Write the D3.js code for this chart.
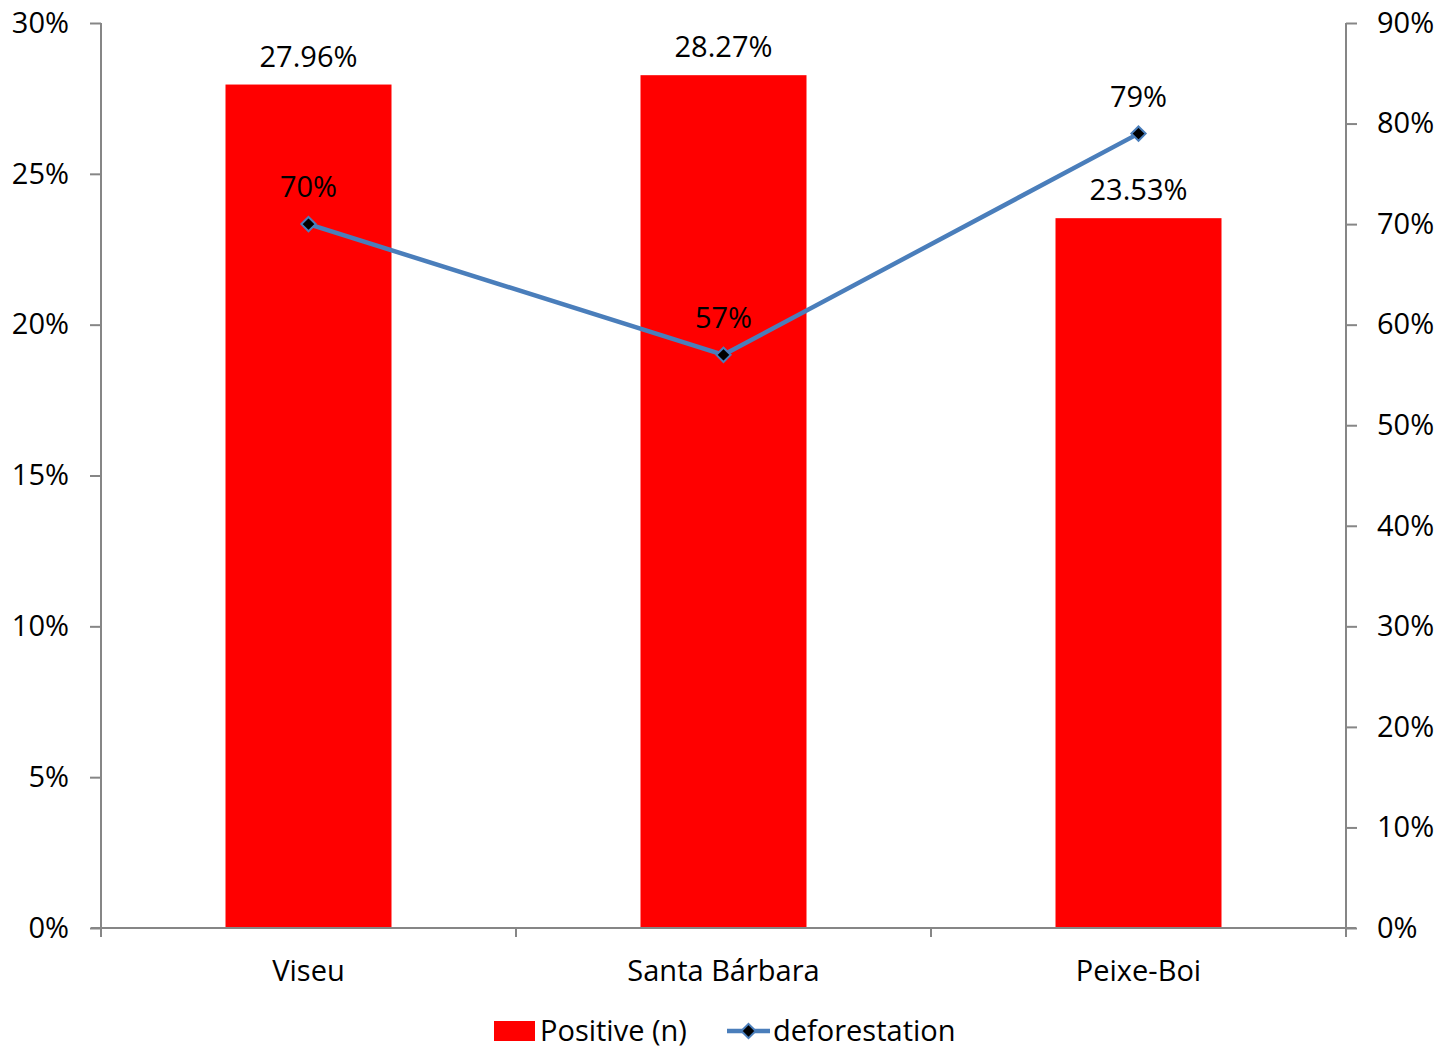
<!DOCTYPE html>
<html>
<head>
<meta charset="utf-8">
<script src="https://cdn.jsdelivr.net/npm/d3@7"></script>
<style>
  html, body { margin: 0; padding: 0; background: #fff; }
  svg text { font-family: "Open Sans", "Lato", sans-serif; fill: #000; }
</style>
</head>
<body>
<svg id="chart" width="1453" height="1049"></svg>
<script>
// Municipalities, share of positive samples, and deforestation share
const categories = ["Viseu", "Santa Bárbara", "Peixe-Boi"];
const positive = [27.96, 28.27, 23.53];
const deforestation = [70, 57, 79];
const leftTicks = [0, 5, 10, 15, 20, 25, 30];
const rightTicks = [0, 10, 20, 30, 40, 50, 60, 70, 80, 90];
const seriesNames = ["Positive (n)", "deforestation"];

const svg = d3.select("#chart");
const plot = { left: 101, right: 1346, top: 23, bottom: 928 };
const axisColor = "#868686";
const barColor = "#ff0000";
const lineColor = "#4a7ebb";
const fontSize = 29;
const fontFamily = '"Open Sans", "Lato", sans-serif';

const x = d3.scaleBand().domain(categories).range([plot.left, plot.right]).paddingInner(0).paddingOuter(0);
const yL = d3.scaleLinear().domain([0, 30]).range([plot.bottom, plot.top]);
const yR = d3.scaleLinear().domain([0, 90]).range([plot.bottom, plot.top]);
const barW = x.bandwidth() * 0.4;
const cx = d => x(d) + x.bandwidth() / 2;

// Bars
svg.append("g").selectAll("rect").data(categories).join("rect")
  .attr("x", (d) => cx(d) - barW / 2)
  .attr("y", (d, i) => yL(positive[i]))
  .attr("width", barW)
  .attr("height", (d, i) => plot.bottom - yL(positive[i]))
  .attr("fill", barColor);

// Left axis
const gL = svg.append("g").attr("transform", `translate(${plot.left},0)`)
  .call(d3.axisLeft(yL).tickValues(leftTicks).tickFormat(d => d + "%").tickSize(11).tickPadding(21));
// Right axis
const gR = svg.append("g").attr("transform", `translate(${plot.right},0)`)
  .call(d3.axisRight(yR).tickValues(rightTicks).tickFormat(d => d + "%").tickSize(11).tickPadding(20));
// Bottom axis (ticks at category boundaries)
const gB = svg.append("g").attr("transform", `translate(0,${plot.bottom})`);
gB.append("line").attr("x1", plot.left - 10).attr("x2", plot.right + 10)
  .attr("stroke", axisColor).attr("stroke-width", 2);
const bounds = categories.map(c => x(c)).concat([plot.right]);
gB.selectAll("line.tk").data(bounds).join("line").attr("class", "tk")
  .attr("x1", d => d).attr("x2", d => d).attr("y1", 0).attr("y2", 9)
  .attr("stroke", axisColor).attr("stroke-width", 2);
gB.selectAll("text").data(categories).join("text")
  .attr("x", cx).attr("y", 53).attr("text-anchor", "middle")
  .attr("font-size", fontSize).text(d => d);

[gL, gR].forEach(g => {
  g.select(".domain").attr("stroke", axisColor).attr("stroke-width", 2);
  g.selectAll(".tick line").attr("stroke", axisColor).attr("stroke-width", 2);
  g.selectAll(".tick text").attr("font-size", fontSize).attr("fill", "#000")
    .style("font-family", fontFamily);
});
gL.select(".domain").attr("d", `M0,${plot.top}V${plot.bottom}`);
gR.select(".domain").attr("d", `M0,${plot.top}V${plot.bottom}`);

// Bar value labels
svg.append("g").selectAll("text").data(categories).join("text")
  .attr("x", cx).attr("y", (d, i) => yL(positive[i]) - 18)
  .attr("text-anchor", "middle").attr("font-size", fontSize)
  .text((d, i) => positive[i].toFixed(2) + "%");

// Deforestation line
const line = d3.line().x(d => cx(d.c)).y(d => yR(d.v));
const pts = categories.map((c, i) => ({ c, v: deforestation[i] }));
svg.append("path").datum(pts).attr("d", line)
  .attr("fill", "none").attr("stroke", lineColor).attr("stroke-width", 4.5)
  .attr("stroke-linejoin", "round");

const diamond = d3.symbol().type(d3.symbolDiamond2).size(130);
svg.append("g").selectAll("path").data(pts).join("path")
  .attr("transform", d => `translate(${cx(d.c)},${yR(d.v)})`)
  .attr("d", diamond).attr("fill", "#000")
  .attr("stroke", lineColor).attr("stroke-width", 2);

svg.append("g").selectAll("text").data(pts).join("text")
  .attr("x", d => cx(d.c)).attr("y", d => yR(d.v) - 27)
  .attr("text-anchor", "middle").attr("font-size", fontSize)
  .text(d => d.v + "%");

// Legend
const lg = svg.append("g").attr("transform", "translate(0,1031)");
lg.append("rect").attr("x", 494).attr("y", -10).attr("width", 41).attr("height", 20).attr("fill", barColor);
lg.append("text").attr("x", 540).attr("y", 10).attr("font-size", fontSize).text(seriesNames[0]);
lg.append("line").attr("x1", 727).attr("x2", 770).attr("y1", 0).attr("y2", 0)
  .attr("stroke", lineColor).attr("stroke-width", 4.5);
lg.append("path").attr("transform", "translate(748.5,0)").attr("d", diamond)
  .attr("fill", "#000").attr("stroke", lineColor).attr("stroke-width", 2);
lg.append("text").attr("x", 773).attr("y", 10).attr("font-size", fontSize).text(seriesNames[1]);
</script>
</body>
</html>
